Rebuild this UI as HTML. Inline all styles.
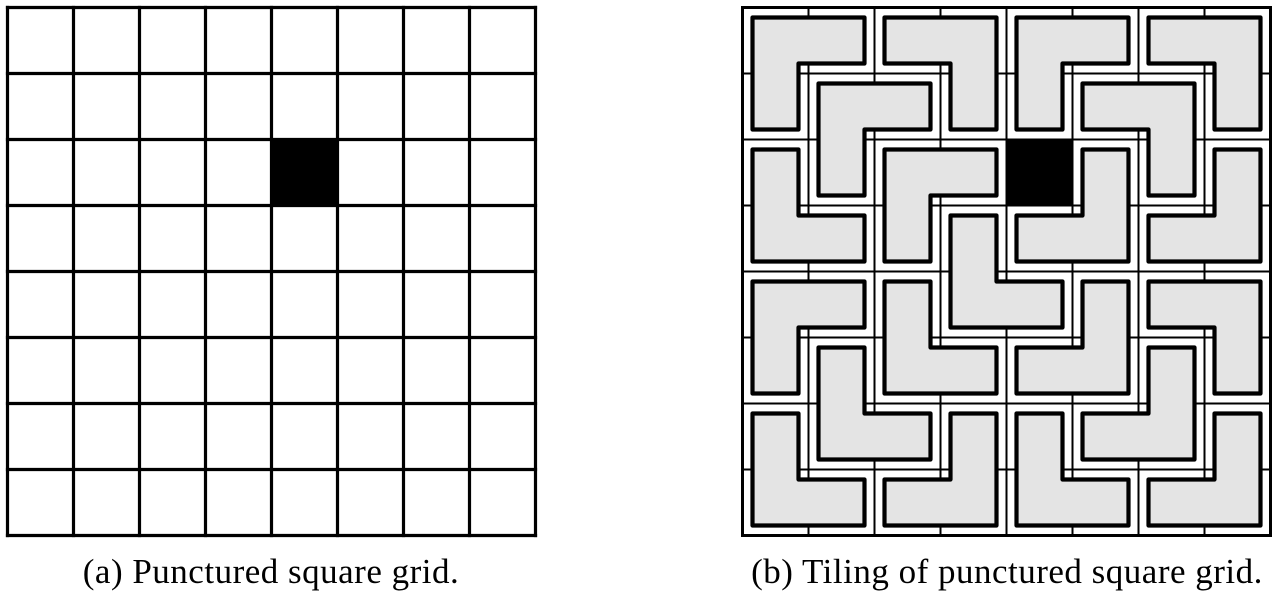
<!DOCTYPE html>
<html><head><meta charset="utf-8">
<style>
html,body{margin:0;padding:0;background:#fff;}
body{width:1276px;height:596px;overflow:hidden;position:relative;font-family:"Liberation Serif",serif;}
.cap{position:absolute;top:554px;font-size:35px;line-height:35px;letter-spacing:0.5px;color:#000;text-align:center;white-space:nowrap;}
</style></head>
<body>
<svg id="fig" width="1276" height="596" style="position:absolute;left:0;top:0">
  <g id="gridA"></g>
  <g id="gridB"></g>
</svg>
<div class="cap" style="left:6px;width:530px;">(a) Punctured square grid.</div>
<div class="cap" style="left:742px;width:530px;">(b) Tiling of punctured square grid.</div>
<script>
const N = 8;
const hole = [4, 2];
// trominoes: [blockCol, blockRow, missingQuadrant] (TL,TR,BR,BL)
const tiles = [
  [0,0,'BR'],[2,0,'BL'],[4,0,'BR'],[6,0,'BL'],
  [1,1,'BR'],[5,1,'BL'],
  [0,2,'TR'],[2,2,'BR'],[4,2,'TL'],[6,2,'TL'],
  [3,3,'TR'],
  [0,4,'BR'],[2,4,'TR'],[4,4,'TL'],[6,4,'BL'],
  [1,5,'TR'],[5,5,'TL'],
  [0,6,'TR'],[2,6,'TL'],[4,6,'TR'],[6,6,'TL']
];
const NS = 'http://www.w3.org/2000/svg';
const C = 66;
function mk(tag, attrs, parent){
  const e = document.createElementNS(NS, tag);
  for (const k in attrs) e.setAttribute(k, attrs[k]);
  parent.appendChild(e);
  return e;
}
function drawGrid(g, ox, oy, lw, bw){
  const sq = mk('rect', {x: ox + hole[0]*C, y: oy + hole[1]*C, width: C, height: C, fill: '#000'}, g);
  
  
  for (let i = 0; i <= N; i++){
    const w = (i === 0 || i === N) ? bw : lw;
    const v = mk('line', {x1: ox + i*C, y1: oy - bw/2, x2: ox + i*C, y2: oy + N*C + bw/2, stroke: '#000', 'stroke-width': w}, g);
    
    
    const h = mk('line', {x1: ox - bw/2, y1: oy + i*C, x2: ox + N*C + bw/2, y2: oy + i*C, stroke: '#000', 'stroke-width': w}, g);
    
    
  }
}
drawGrid(document.getElementById('gridA'), 7.5, 7.5, 3.2, 3.2);
const gB = document.getElementById('gridB');
const OX = 742.5, OY = 7.5;
drawGrid(gB, OX, OY, 2, 3);
const d = 10;
tiles.forEach(t => {
  const [bc, br, m] = t;
  const X0 = OX + bc*C + d, X1 = OX + (bc+2)*C - d;
  const Y0 = OY + br*C + d, Y1 = OY + (br+2)*C - d;
  const xm = OX + (bc+1)*C, ym = OY + (br+1)*C;
  const mX = (m === 'TR' || m === 'BR') ? xm - d : xm + d;
  const mY = (m === 'BL' || m === 'BR') ? ym - d : ym + d;
  let p;
  if (m === 'TL') p = [[mX,Y0],[X1,Y0],[X1,Y1],[X0,Y1],[X0,mY],[mX,mY]];
  else if (m === 'TR') p = [[X0,Y0],[mX,Y0],[mX,mY],[X1,mY],[X1,Y1],[X0,Y1]];
  else if (m === 'BR') p = [[X0,Y0],[X1,Y0],[X1,mY],[mX,mY],[mX,Y1],[X0,Y1]];
  else p = [[X0,Y0],[X1,Y0],[X1,Y1],[mX,Y1],[mX,mY],[X0,mY]];
  const poly = mk('polygon', {points: p.map(q => q.join(',')).join(' '), fill: '#e4e4e4', stroke: '#000', 'stroke-width': 4.2, 'stroke-linejoin': 'round'}, gB);
  
  
});
</script>
</body></html>
